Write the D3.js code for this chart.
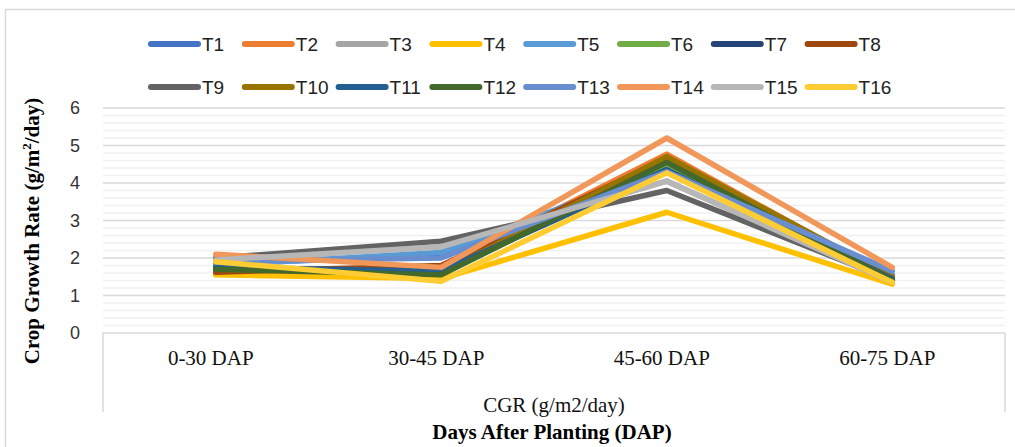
<!DOCTYPE html>
<html><head><meta charset="utf-8">
<script src="https://cdn.jsdelivr.net/npm/d3@7"></script>
<style>body{margin:0;background:#fff}svg{display:block}</style>
</head><body>
<svg id="c" width="1015" height="447"></svg>
<script>
const categories = ["0-30 DAP","30-45 DAP","45-60 DAP","60-75 DAP"];
const seriesNames = ["T1","T2","T3","T4","T5","T6","T7","T8","T9","T10","T11","T12","T13","T14","T15","T16"];
const T1  = [1.85, 2.05, 4.35, 1.55];
const T2  = [1.60, 1.75, 4.77, 1.45];
const T3  = [1.95, 2.30, 4.05, 1.35];
const T4  = [1.55, 1.45, 3.22, 1.30];
const T5  = [1.80, 2.15, 4.40, 1.55];
const T6  = [1.75, 1.60, 4.50, 1.45];
const T7  = [1.70, 1.70, 4.35, 1.45];
const T8  = [1.62, 1.80, 4.65, 1.40];
const T9  = [2.00, 2.45, 3.80, 1.40];
const T10 = [1.70, 1.60, 4.70, 1.50];
const T11 = [1.75, 1.65, 4.35, 1.45];
const T12 = [1.70, 1.55, 4.55, 1.40];
const T13 = [1.90, 2.00, 4.30, 1.65];
const T14 = [2.10, 1.75, 5.20, 1.75];
const T15 = [1.95, 2.30, 4.05, 1.35];
const T16 = [1.90, 1.38, 4.27, 1.35];
const seriesValues = [T1,T2,T3,T4,T5,T6,T7,T8,T9,T10,T11,T12,T13,T14,T15,T16];
const colors = ["#4472C4","#ED7D31","#A5A5A5","#FFC000","#5B9BD5","#70AD47","#264478","#9E480E",
                "#636363","#997300","#255E91","#43682B","#698ED0","#F1975A","#B7B7B7","#FFCD33"];
const yTicks = [0,1,2,3,4,5,6];

const svg = d3.select("#c");
svg.append("rect").attr("x",5.5).attr("y",9.5).attr("width",1020).attr("height",450)
  .attr("fill","#fff").attr("stroke","#d9d9d9").attr("stroke-width",1.5);

const L = 103, R = 1005, T = 108, B = 333;
const x = d3.scaleBand().domain(categories).range([L,R]);
const y = d3.scaleLinear().domain([0,6]).range([B,T]);

// minor gridlines
const minor = d3.range(0,6.001,0.2).filter(v => Math.abs(v-Math.round(v))>1e-6);
svg.append("g").selectAll("line").data(minor).join("line")
  .attr("x1",L).attr("x2",R).attr("y1",d=>y(d)).attr("y2",d=>y(d))
  .attr("stroke","#f0f0f0").attr("stroke-width",1.5);
svg.append("g").selectAll("line").data(yTicks.filter(d=>d>0)).join("line")
  .attr("x1",L).attr("x2",R).attr("y1",d=>y(d)).attr("y2",d=>y(d))
  .attr("stroke","#d9d9d9").attr("stroke-width",1.5);

// y axis labels
const yAxis = d3.axisLeft(y).tickValues(yTicks).tickSize(0).tickPadding(0).tickFormat(d3.format("d"));
const yg = svg.append("g").attr("transform",`translate(${L-23},0)`).call(yAxis);
yg.select(".domain").remove();
yg.selectAll("text").attr("font-family","'Liberation Sans', Arial, sans-serif").attr("font-size",18).attr("fill","#333");

// x axis box
svg.append("line").attr("x1",L).attr("x2",R).attr("y1",B).attr("y2",B).attr("stroke","#d9d9d9").attr("stroke-width",1.5);
svg.append("line").attr("x1",L).attr("x2",L).attr("y1",B).attr("y2",412).attr("stroke","#d9d9d9").attr("stroke-width",1.5);
svg.append("line").attr("x1",R).attr("x2",R).attr("y1",B).attr("y2",412).attr("stroke","#d9d9d9").attr("stroke-width",1.5);

const xAxis = d3.axisBottom(x).tickSize(0).tickPadding(0);
const xg = svg.append("g").attr("transform",`translate(-5,${B+17})`).call(xAxis);
xg.select(".domain").remove();
xg.selectAll("text").attr("font-family","'Liberation Serif', 'DejaVu Serif', serif").attr("font-size",21).attr("fill","#111");

svg.append("text").attr("x",(L+R)/2).attr("y",412).attr("text-anchor","middle")
  .attr("font-family","'Liberation Serif', serif").attr("font-size",21).attr("fill","#111").text("CGR (g/m2/day)");
svg.append("text").attr("x",(L+R)/2 - 2).attr("y",439).attr("text-anchor","middle")
  .attr("font-family","'Liberation Serif', serif").attr("font-weight","bold").attr("font-size",21).attr("fill","#000").text("Days After Planting (DAP)");

svg.append("text").attr("transform","translate(39,231) rotate(-90)").attr("text-anchor","middle")
  .attr("font-family","'Liberation Serif', serif").attr("font-weight","bold").attr("font-size",21).attr("fill","#000")
  .html('Crop Growth Rate (g/m<tspan dy="-8" font-size="13">2</tspan><tspan dy="8">/day)</tspan>');

// lines
const line = d3.line().x((d,i)=>x(categories[i])+x.bandwidth()/2).y(d=>y(d));
svg.append("g").selectAll("path").data(seriesValues).join("path")
  .attr("d",line).attr("fill","none").attr("stroke",(d,i)=>colors[i])
  .attr("stroke-width",5.5).attr("stroke-linecap","round").attr("stroke-linejoin","round");

// legend
const lg = svg.append("g");
seriesNames.forEach((n,i)=>{
  const row = Math.floor(i/8), col = i%8;
  const lx = 148 + col*93.8, ly = 44 + row*43;
  lg.append("line").attr("x1",lx+3).attr("x2",lx+50).attr("y1",ly).attr("y2",ly)
    .attr("stroke",colors[i]).attr("stroke-width",6).attr("stroke-linecap","round");
  lg.append("text").attr("x",lx+54).attr("y",ly+7)
    .attr("font-family","'Liberation Sans Narrow', 'Liberation Sans', sans-serif").attr("font-size",19).attr("fill","#222").text(n);
});
</script>
</body></html>
